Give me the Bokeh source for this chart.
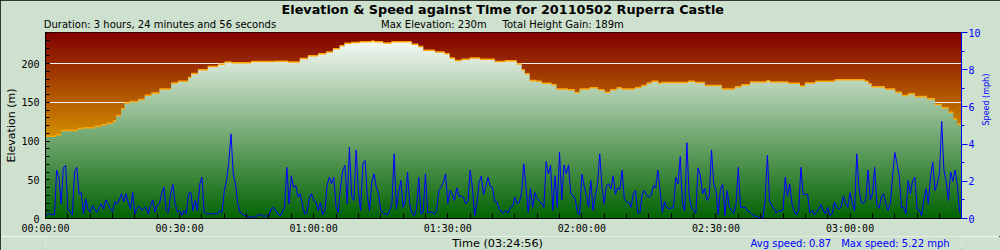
import math
import numpy as np
from bokeh.plotting import figure
from bokeh.layouts import column
from bokeh.models import Range1d, LinearAxis, FixedTicker, Title
from bokeh.core.properties import value
from bokeh.embed import file_html
from bokeh.resources import INLINE

# ---------------- data ----------------
title_text = "Elevation & Speed against Time for 20110502 Ruperra Castle"
duration_text = "Duration: 3 hours, 24 minutes and 56 seconds"
max_elev_text = "Max Elevation: 230m"
gain_text = "Total Height Gain: 189m"
time_label_text = "Time (03:24:56)"
avg_speed_text = "Avg speed: 0.87"
max_speed_text = "Max speed: 5.22 mph"
elev_axis_label = "Elevation (m)"
speed_axis_label = "Speed (mph)"

duration_min = 204.93  # 3:24:56

x_ticks = [0, 30, 60, 90, 120, 150, 180]
x_tick_labels = ["00:00:00", "00:30:00", "01:00:00", "01:30:00",
                 "02:00:00", "02:30:00", "03:00:00"]
x_minor_ticks = list(range(0, 205, 5))
elev_ticks = [0, 50, 100, 150, 200]
elev_minor_ticks = list(range(0, 241, 10))
elev_axis_max = 240
speed_ticks = [0, 2, 4, 6, 8, 10]
speed_minor_ticks = list(range(0, 11))
speed_axis_max = 10

# elevation profile: minutes from start, metres (value holds until next point)
elev_t = [0, 2.4, 3.5, 7.2, 8.4, 11.0, 12.5, 13.6, 15.1, 15.8, 16.9, 17.7, 18.8,
          20.7, 22.2, 23.7, 25.5, 28.1, 29.6, 31.9, 32.6, 34.1, 36.3, 38.6, 40.1,
          41.6, 46.0,
          51.3, 54.3, 56.9, 58.7, 61.0, 62.8, 64.3, 65.8, 66.9, 68.4, 70.3, 72.9,
          73.6, 75.5, 77.4, 81.9, 83.4, 84.5, 87.1, 89.3, 90.4, 91.6, 93.1, 94.9,
          97.2, 100.5,
          102.75, 105.4, 106.5, 107.2, 108.3, 109.8, 111.0, 113.2, 114.3, 116.9,
          118.4, 119.5, 121.8, 123.6, 125.1, 126.3, 127.8, 128.9, 131.9, 133.3,
          134.5, 135.6, 137.1, 137.8, 143.8, 145.3, 147.5, 151.3,
          154.24, 155.7, 157.6, 161.3, 162.1, 166.2, 168.8, 169.9, 172.2, 176.6,
          183.3, 184.1, 184.8, 187.8, 190.1, 191.6, 193.0, 194.5, 197.2, 199.0,
          200.5, 202.0, 203.1, 203.9, 204.93]
elev_m = [106, 108, 113.5, 116, 117, 119, 121, 123, 126, 133, 141.5, 149, 151,
          153.5, 159, 162, 167, 175, 177, 182, 187, 192, 196, 199, 202,
          201, 202.5,
          203, 202, 206.5, 210, 212.5, 215, 219, 223, 226, 227, 228, 229,
          228, 226.5, 228, 225, 222, 217, 215, 212.5, 207, 204, 205.5, 207,
          205.5, 202.5,
          203.5, 199.5, 192, 186.7, 178, 177, 174.6, 172.5, 167, 166,
          162.6, 167, 168.6, 166, 163, 166, 168.6, 167, 169, 171.6,
          175, 177, 174.6, 175.5, 177, 175.5, 171.6, 167,
          170, 172.5, 176, 177.6, 176, 174.6, 171, 175, 177, 179,
          177, 174, 170, 167, 163, 158.7, 161, 157.4, 154.4, 147,
          142.8, 137.2, 128.6, 122, 122]

# speed samples every 30 seconds (mph)
speed_sample_min = 0.5
speed_mph = [
    0.1, 0.25, 0.25, 0.2, 0.2, 2.6, 2.2, 0.8, 2.75, 2.85,
    0.5, 0.35, 0.2, 2.5, 2.75, 1.3, 1.4, 0.25, 1.05, 0.5,
    0.34, 0.7, 0.5, 0.34, 0.6, 0.8, 0.5, 1.0, 0.8, 0.5,
    0.34, 0.9, 0.8, 1.0, 1.33, 0.9, 1.33, 0.88, 0.52, 1.4,
    0.25, 0.55, 0.65, 0.45, 0.55, 0.6, 0.25, 0.7, 1.0, 0.34,
    0.7, 0.8, 1.36, 1.68, 0.43, 0.34, 1.33, 1.83, 0.8, 0.34,
    0.43, 0.16, 0.43, 0.25, 1.33, 1.4, 0.43, 0.97, 0.43, 1.83,
    2.22, 0.34, 0.25, 0.25, 0.25, 0.25, 0.25, 0.25, 0.43, 0.34,
    1.5, 2.04, 3.0, 4.55, 2.4, 1.86, 0.8, 0.35, 0.22, 0.18,
    0.13, 0.1, 0.07, 0.07, 0.07, 0.2, 0.2, 0.14, 0.13, 0.13,
    0.15, 0.52, 0.6,
    0.43, 0.25, 0.13, 0.35, 0.6, 2.75, 0.8, 2.3, 1.68, 1.77,
    1.15, 1.33, 0.7, 0.25, 0.34, 1.05, 1.33, 0.97, 0.9, 0.43,
    0.85, 0.2, 0.43, 1.77, 2.22, 1.86, 2.22, 0.6, 0.34, 1.68,
    2.58, 2.85, 0.8, 3.83, 1.2, 0.97, 3.69, 1.5, 0.43, 2.94,
    3.12, 1.2, 0.43, 1.95, 2.4, 1.68, 1.33, 0.43, 0.29, 0.25,
    0.2, 0.43, 0.8, 3.48, 0.5, 1.4, 2.04, 0.6, 0.97, 2.49,
    0.7, 0.3, 0.16, 0.5, 2.22, 0.25, 0.34, 2.4, 0.3, 0.34,
    0.34, 0.25, 0.43, 1.5, 1.68, 1.95, 2.4, 0.8, 1.5, 1.3,
    0.97, 1.65, 1.2, 1.2, 1.15, 0.8, 0.9, 2.6, 1.68, 0.16,
    0.8, 1.95, 2.28, 1.3, 1.7, 2.22, 1.72, 1.68, 0.9, 0.9,
    0.55, 0.34, 0.3,
    0.43, 0.3, 0.6, 0.65, 1.15, 0.8, 0.88, 1.33, 2.94, 1.68,
    0.34, 1.6, 0.6, 1.4, 1.06, 0.95, 0.8, 0.6, 3.06, 2.4,
    2.85, 0.43, 2.3, 0.6, 3.57, 1.0, 2.88, 2.4, 2.88, 1.33,
    1.24, 1.05, 0.34, 0.2, 2.37, 1.77, 1.24, 0.6, 2.04, 0.43,
    1.2, 1.83, 3.48, 1.68, 0.8, 1.77, 1.86, 1.6, 2.3, 1.3,
    1.65, 1.55, 2.6, 1.06, 0.9, 0.88, 0.6, 1.33, 1.5, 0.29,
    0.34, 1.33, 1.5, 1.24, 1.15, 1.24, 1.77, 1.65, 2.6, 1.5,
    0.34, 0.9, 0.6, 0.52, 0.57, 0.57, 2.22, 1.86, 3.33, 0.8,
    0.4, 4.07, 1.2, 0.6, 0.43, 0.29, 2.72, 2.3, 1.33, 1.6,
    0.97, 1.2, 3.69, 1.86, 1.5, 0.2, 1.6, 1.83, 0.16, 1.5,
    0.6, 0.43, 0.29,
    0.8, 2.75, 0.6, 0.6, 0.6, 0.43, 0.35, 0.25, 0.16, 0.11,
    0.07, 0.04, 0.04, 1.0, 3.39, 0.9, 0.7, 0.5, 0.3, 0.43,
    0.4, 0.43, 2.22, 1.2, 1.86, 0.8, 0.4, 0.2, 0.43, 2.75,
    1.3, 1.3, 1.3, 0.3, 0.43, 0.2, 0.34, 0.52, 0.75, 0.43,
    0.25, 0.6, 0.16, 0.25, 0.88, 0.6, 0.52, 0.6, 1.2, 0.8,
    0.6, 1.4, 0.8, 0.43, 3.48, 1.6, 0.88, 0.8, 1.0, 2.6,
    1.0, 1.3, 2.75, 0.7, 0.55, 1.15, 1.33, 0.8, 0.43, 0.8,
    2.22, 3.55, 2.94, 2.3, 0.6, 0.6, 0.25, 2.04, 1.33, 2.04,
    2.22, 0.5, 0.43, 0.16, 1.0, 1.6, 0.8, 2.22, 3.03, 1.5,
    1.86, 2.4, 5.22, 2.6, 2.0, 0.97, 2.5, 2.0, 2.6, 1.8,
    0.34,
]
speed_t = [i * speed_sample_min for i in range(len(speed_mph))]

# ---------------- layout / style ----------------
W = 1000
MAIN_H = 236          # rows 0..236 of the picture
BOTTOM_H = 14         # rows 236..250
FL, FR, FT, FB = 45, 961, 32, 218
BG = "#CEE0CE"
FONT = "DejaVu Sans"
MONO = "DejaVu Sans Mono"
BLUE = "#0000FF"
NB = "\u00a0"

p = figure(width=W, height=MAIN_H, output_backend="svg", toolbar_location=None,
           title=None,
           x_range=Range1d(0, duration_min), y_range=Range1d(0, elev_axis_max),
           min_border_left=FL, min_border_right=W - FR, min_border_top=FT,
           min_border_bottom=MAIN_H - FB, border_fill_color=BG,
           background_fill_color="#800000")
p.extra_y_ranges = {"speed": Range1d(0, speed_axis_max)}
p.outline_line_color = "black"
p.outline_line_width = 1
p.xgrid.visible = False
p.ygrid.visible = False


def lerp(c0, c1, f):
    return tuple(int(round(a + (b - a) * f)) for a, b in zip(c0, c1))


def hexc(c):
    return "#%02x%02x%02x" % c


def sky_color(f):
    stops = [(0.0, (255, 222, 0)), (0.45, (208, 140, 0)), (1.0, (128, 0, 0))]
    for (f0, c0), (f1, c1) in zip(stops[:-1], stops[1:]):
        if f <= f1:
            return hexc(lerp(c0, c1, (f - f0) / (f1 - f0)))
    return hexc(stops[-1][1])


def ground_color(f):
    return hexc(lerp((0, 98, 0), (255, 255, 255), f))


n_bands = 120
edges = np.linspace(0, elev_axis_max, n_bands + 1)
bw = edges[1] - edges[0]
mids = (edges[:-1] + edges[1:]) / 2

# sky gradient
p.quad(left=0, right=duration_min, bottom=edges[:-1], top=edges[1:] + bw * 0.6,
       fill_color=[sky_color(m / elev_axis_max) for m in mids], line_color=None)

# grid lines (hidden behind the ground)
p.hspan(y=elev_ticks[1:], line_color="#F4F0EA", line_width=1.2)

# ground gradient below the elevation profile
elev_arr = np.array(elev_m, dtype=float)
for i in range(n_bands):
    a, b = edges[i], edges[i + 1]
    lo = a - bw * 0.6 if i > 0 else a
    if elev_arr.max() <= lo:
        break
    y2 = np.clip(elev_arr, lo, b)
    p.varea_step(x=elev_t, y1=[lo] * len(elev_t), y2=list(y2), step_mode="after",
                 fill_color=ground_color(mids[i] / elev_axis_max))

# orange top edge of the profile
p.segment(x0=elev_t[:-1], y0=elev_m[:-1], x1=elev_t[1:], y1=elev_m[:-1],
          line_color="#FFA500", line_width=1.5)

# speed
p.line(x=speed_t, y=speed_mph, y_range_name="speed", line_color=BLUE,
       line_width=1)

# ---------------- axes ----------------
xa = p.xaxis[0]
xa.ticker = FixedTicker(ticks=x_ticks, minor_ticks=x_minor_ticks)
xa.major_label_overrides = {t: s for t, s in zip(x_ticks, x_tick_labels)}
xa.major_tick_in = 5
xa.major_tick_out = 0
xa.minor_tick_in = 5
xa.minor_tick_out = 0
xa.axis_line_color = "black"
xa.major_label_text_font = MONO
xa.major_label_text_font_size = "10px"
xa.major_label_text_color = "black"
xa.major_label_standoff = 4

ya = p.yaxis[0]
ya.ticker = FixedTicker(ticks=elev_ticks, minor_ticks=elev_minor_ticks)
ya.major_tick_in = 4
ya.major_tick_out = 0
ya.minor_tick_in = 4
ya.minor_tick_out = 0
ya.axis_line_color = "black"
ya.major_label_text_font = MONO
ya.major_label_text_font_size = "10px"
ya.major_label_text_color = "black"
ya.major_label_standoff = 6
ya.axis_label = elev_axis_label
ya.axis_label_text_font = FONT
ya.axis_label_text_font_size = "11px"
ya.axis_label_text_font_style = "normal"
ya.axis_label_text_color = "black"
ya.axis_label_standoff = 0

ra = LinearAxis(y_range_name="speed",
                ticker=FixedTicker(ticks=speed_ticks, minor_ticks=speed_minor_ticks))
ra.axis_line_color = BLUE
ra.major_tick_line_color = BLUE
ra.minor_tick_line_color = BLUE
ra.major_tick_in = 0
ra.major_tick_out = 6
ra.minor_tick_in = 0
ra.minor_tick_out = 3
ra.major_label_text_color = BLUE
ra.major_label_text_font = MONO
ra.major_label_text_font_size = "10px"
ra.major_label_standoff = 1
ra.axis_label = speed_axis_label
ra.axis_label_text_font = FONT
ra.axis_label_text_font_size = "8px"
ra.axis_label_text_font_style = "normal"
ra.axis_label_text_color = BLUE
ra.axis_label_standoff = 3
ra.axis_label_orientation = math.pi / 2
p.add_layout(ra, "right")

# ---------------- top texts (titles) ----------------
subtitle = duration_text + NB * 33 + max_elev_text + NB * 5 + gain_text
p.add_layout(Title(text=subtitle, align="left", offset=43.3 - FL, standoff=3.4,
                   vertical_align="middle", text_font=FONT, text_font_size="10px",
                   text_font_style="normal", text_color="black"), "above")
p.add_layout(Title(text=title_text, align="left", offset=281 - FL, standoff=-1.9,
                   vertical_align="middle", text_font=FONT, text_font_size="12.8px",
                   text_font_style="bold", text_color="black"), "above")

# ---------------- bottom text row (x in picture pixels) ----------------
b = figure(width=W, height=BOTTOM_H, output_backend="svg", toolbar_location=None,
           title=None, x_range=Range1d(FL, FR), y_range=Range1d(BOTTOM_H, 0),
           x_axis_type=None, y_axis_type=None, min_border=0,
           min_border_left=0, min_border_right=0, min_border_top=0,
           min_border_bottom=0, border_fill_color=BG, background_fill_color=BG,
           outline_line_color=None)
b.xgrid.visible = False
b.ygrid.visible = False
ROW_Y = 242.5 - MAIN_H
b.text(x=[451.7], y=[ROW_Y], text=[time_label_text], text_font=value(FONT),
       text_font_size=value("11.3px"), text_color="black", text_baseline="middle",
       text_align="left")
b.text(x=[750, 840.7], y=[ROW_Y, ROW_Y], text=[avg_speed_text, max_speed_text],
       text_font=value(FONT), text_font_size=value("10px"), text_color=BLUE,
       text_baseline="middle", text_align="left")

layout = column(p, b, spacing=0,
                styles={"outline": "1px solid black", "outline-offset": "-1px"})

open("out.html", "w").write(file_html(layout, INLINE))
